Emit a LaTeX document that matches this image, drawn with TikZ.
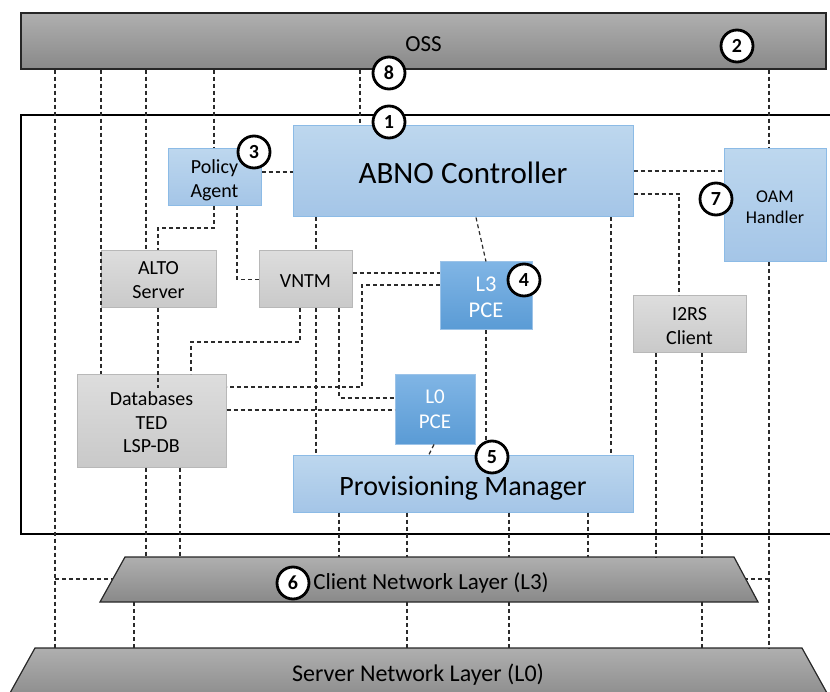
\documentclass[tikz,border=0pt]{standalone}
\usepackage{fontspec}
\setmainfont{Carlito}
\usetikzlibrary{calc}
\definecolor{blueT}{HTML}{BDD7EE}
\definecolor{blueD}{HTML}{A4C5E7}
\definecolor{blueB}{HTML}{8CBBE6}
\definecolor{pceT}{HTML}{80B5E5}
\definecolor{pceD}{HTML}{5A9BD5}
\definecolor{pceB}{HTML}{9CC3E8}
\definecolor{grayT}{HTML}{DDDDDD}
\definecolor{grayD}{HTML}{C9C9C9}
\definecolor{grayB}{HTML}{B8B8B8}
\definecolor{layT}{HTML}{AFAFAF}
\definecolor{layD}{HTML}{898989}
\definecolor{dashc}{HTML}{2B2B2B}
% text whose first baseline sits #1 above the node centre
\newcommand{\txtat}[2]{\raisebox{#1}[0pt][0pt]{\begin{tabular}[t]{@{}c@{}}#2\end{tabular}}}
\begin{document}
\begin{tikzpicture}[x=1pt,y=-1pt,
  dl/.style={draw=dashc, line width=1.2pt, dash pattern=on 4pt off 3pt},
  abox/.style={rectangle, line width=1pt, inner sep=0pt, align=center},
  bluebox/.style={abox, draw=blueB, top color=blueT, bottom color=blueD},
  pcebox/.style={abox, draw=pceB, top color=pceT, bottom color=pceD, text=white},
  graybox/.style={abox, draw=grayB, top color=grayT, bottom color=grayD, font=\fontsize{20}{24}\selectfont},
  layer/.style={draw=black!85, line width=1.2pt, top color=layT, bottom color=layD},
  num/.style={circle, draw=black, line width=2.8pt, fill=white, minimum size=32pt, inner sep=0pt, font=\fontsize{20}{24}\selectfont\bfseries},
]
\begin{scope}
\clip (0,0) rectangle (830,692);
% OSS bar
\node[layer, rectangle, minimum width=805pt, minimum height=56pt, inner sep=0pt, font=\fontsize{23}{27}\selectfont] (oss) at (423.5,41) {\txtat{-10.7pt}{OSS}};
% client layer
\coordinate (clTL) at (125,557);
\coordinate (clTR) at (734,557);
\coordinate (clBR) at (758,602);
\coordinate (clBL) at (100,602);
\path[layer] (clTL) -- (clTR) -- (clBR) -- (clBL) -- cycle;
\node[font=\fontsize{23}{27}\selectfont, inner sep=0pt] (cltext) at (431,589.3) {\txtat{0pt}{Client Network Layer (L3)}};
% server layer
\coordinate (svTL) at (35,648);
\coordinate (svTR) at (802,648);
\coordinate (svBR) at (832,702);
\coordinate (svBL) at (5,702);
\path[layer] (svTL) -- (svTR) -- (svBR) -- (svBL) -- cycle;
\node[font=\fontsize{24}{28}\selectfont, inner sep=0pt] (svtext) at (418,681.7) {\txtat{0pt}{Server Network Layer (L0)}};
\coordinate (clLm) at (112.8,579);
\coordinate (clRm) at (745.7,579);
% main frame
\draw[line width=2.6pt] (21,115) rectangle (870,534);
% boxes
\node[bluebox, minimum width=340pt, minimum height=91pt, font=\fontsize{31}{37}\selectfont] (abno) at (463,171.5) {\txtat{-11.8pt}{ABNO Controller}};
\node[bluebox, minimum width=93pt, minimum height=57pt, font=\fontsize{20}{24}\selectfont] (pa) at (214.5,177.5) {\txtat{4.2pt}{Policy\\Agent}};
\node[bluebox, minimum width=102pt, minimum height=113pt, font=\fontsize{18}{20.6}\selectfont] (oam) at (775,205.5) {\txtat{2.8pt}{OAM\\Handler}};
\node[graybox, minimum width=115pt, minimum height=57pt] (alto) at (158.5,279.5) {\txtat{4.5pt}{ALTO\\Server}};
\node[graybox, minimum width=93pt, minimum height=57pt] (vntm) at (305.5,279.5) {\txtat{-7.8pt}{VNTM}};
\node[pcebox, minimum width=92pt, minimum height=68pt, font=\fontsize{22.5}{26.4}\selectfont] (l3) at (486,296) {\txtat{4.7pt}{L3\\PCE}};
\node[graybox, minimum width=113pt, minimum height=57pt] (i2rs) at (689.5,324.5) {\txtat{3.5pt}{I2RS\\Client}};
\node[graybox, minimum width=149pt, minimum height=92pt] (db) at (151.5,421) {\txtat{16pt}{Databases\\TED\\LSP-DB}};
\node[pcebox, minimum width=80pt, minimum height=69pt, font=\fontsize{21}{24.3}\selectfont] (l0) at (435,409.5) {\txtat{5.5pt}{L0\\PCE}};
\node[bluebox, minimum width=340pt, minimum height=57pt, font=\fontsize{28}{33}\selectfont] (pm) at (463,483.5) {\txtat{-11.5pt}{Provisioning Manager}};
% connectors
\draw[dl] (55,0 |- oss.south) -- (55,0 |- svTL);
\draw[dl] (55,0 |- clLm) -- (clLm);
\draw[dl] (101,0 |- oss.south) -- (101,0 |- db.north);
\draw[dl] (146,0 |- oss.south) -- (146,0 |- alto.north);
\draw[dl] (146,0 |- db.south) -- (146,0 |- clTL);
\draw[dl] (180,0 |- db.south) -- (180,0 |- clTL);
\draw[dl] (214,0 |- oss.south) -- (214,0 |- pa.north);
\draw[dl] (214,0 |- pa.south) -- (214,228) -- (158,228) -- (158,0 |- alto.north);
\draw[dl] (237,0 |- pa.south) |- (vntm.west);
\draw[dl] (pa.east |- 0,172) -- (abno.west |- 0,172);
\draw[dl] (360,0 |- oss.south) -- (360,0 |- abno.north);
\draw[dl] (316,0 |- abno.south) -- (316,0 |- vntm.north);
\draw[dl] (316,0 |- vntm.south) -- (316,0 |- pm.north);
\draw[dl] (476,0 |- abno.south) -- (l3.north);
\draw[dl] (611,0 |- abno.south) -- (611,0 |- pm.north);
\draw[dl] (abno.east |- 0,171) -- (oam.west |- 0,171);
\draw[dl] (abno.east |- 0,194) -| (679,0 |- i2rs.north);
\draw[dl] (769,0 |- oss.south) -- (oam.north -| 769,0);
\draw[dl] (769,0 |- oam.south) -- (769,0 |- svTL);
\draw[dl] (769,0 |- clRm) -- (clRm);
\draw[dl] (vntm.east |- 0,273) -- (l3.west |- 0,273);
\draw[dl] (l3.west |- 0,285) -- (362,285) -- (362,387) -- (db.east |- 0,387);
\draw[dl] (300,0 |- vntm.south) -- (300,342) -- (191,342) -- (191,0 |- db.north);
\draw[dl] (339,0 |- vntm.south) |- (l0.west |- 0,398);
\draw[dl] (db.east |- 0,410) -- (l0.west |- 0,410);
\draw[dl] (l3.south) -- (pm.north -| l3.south);
\draw[dl] (434,0 |- l0.south) -- (429,0 |- pm.north);
\draw[dl] (656,0 |- i2rs.south) -- (656,0 |- clTL);
\draw[dl] (702,0 |- i2rs.south) -- (702,0 |- clTL);
\draw[dl] (702,0 |- clBL) -- (702,0 |- svTL);
\draw[dl] (339,0 |- pm.south) -- (339,0 |- clTL);
\draw[dl] (407,0 |- pm.south) -- (407,0 |- clTL);
\draw[dl] (407,0 |- clBL) -- (407,0 |- svTL);
\draw[dl] (509,0 |- pm.south) -- (509,0 |- clTL);
\draw[dl] (509,0 |- clBL) -- (509,0 |- svTL);
\draw[dl] (588,0 |- pm.south) -- (588,0 |- clTL);
\draw[dl] (134,0 |- clBL) -- (134,0 |- svTL);
\coordinate (dbin) at (158,388);
\draw[dl] (158,0 |- alto.south) -- (dbin);
% numbered circles
\node[num] (c1) at (389,122) {1};
\node[num] (c2) at (737,46) {2};
\node[num] (c3) at (254,152) {3};
\node[num] (c4) at (524,280) {4};
\node[num] (c5) at (492,457) {5};
\node[num] (c6) at (293,583) {6};
\node[num] (c7) at (716,199) {7};
\node[num] (c8) at (389,73) {8};
\end{scope}
\pgfresetboundingbox
\useasboundingbox (0,0) rectangle (830,692);
\end{tikzpicture}
\end{document}
